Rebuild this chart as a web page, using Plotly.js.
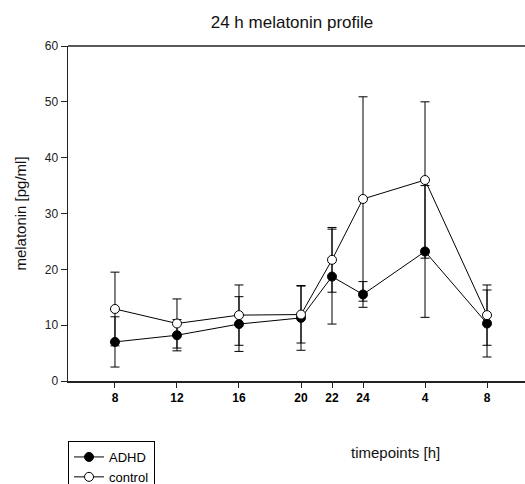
<!DOCTYPE html>
<html>
<head>
<meta charset="utf-8">
<script src="https://cdn.plot.ly/plotly-3.0.1.min.js"></script>
<style>html,body{margin:0;padding:0;background:#fff;}#chart{width:525px;height:484px;}</style>
</head>
<body>
<div id="chart"></div>
<script>
// Time positions in hours (continuous clock: 28 = 4 h next day, 32 = 8 h next day)
const hours = [8, 12, 16, 20, 22, 24, 28, 32];
const tickLabels = ["8", "12", "16", "20", "22", "24", "4", "8"];
const adhdMean = [7.0, 8.2, 10.2, 11.3, 18.7, 15.5, 23.2, 10.3];
const adhdSD   = [4.5, 2.8, 4.9, 5.8, 8.5, 2.3, 11.8, 6.0];
const controlMean = [12.9, 10.3, 11.8, 11.9, 21.7, 32.6, 36.0, 11.8];
const controlSD   = [6.6, 4.4, 5.4, 5.1, 5.8, 18.3, 14.0, 5.4];
const yTicks = [0, 10, 20, 30, 40, 50, 60];

const FONT = "Liberation Sans, Arial, sans-serif";
const PLOT_TOP = 46, PLOT_BOTTOM = 381, PLOT_LEFT = 68, W = 525, H = 484;
const ph = PLOT_BOTTOM - PLOT_TOP, pw = W - PLOT_LEFT;

const traces = [
  {
    x: hours, y: adhdMean, name: "ADHD", type: "scatter", mode: "lines+markers",
    line: {color: "#000", width: 1},
    marker: {symbol: "circle", size: 9, color: "#000", line: {color: "#000", width: 1}},
    error_y: {type: "data", array: adhdSD, visible: true, color: "#000", thickness: 1, width: 4.5}
  },
  {
    x: hours, y: controlMean, name: "control", type: "scatter", mode: "lines+markers",
    line: {color: "#000", width: 1},
    marker: {symbol: "circle", size: 9, color: "#fff", line: {color: "#000", width: 1}},
    error_y: {type: "data", array: controlSD, visible: true, color: "#000", thickness: 1, width: 4.5}
  }
];

const layout = {
  width: W, height: H,
  margin: {l: PLOT_LEFT, r: 0, t: PLOT_TOP, b: H - PLOT_BOTTOM, autoexpand: false},
  font: {family: FONT, color: "#111", size: 12},
  showlegend: true,
  title: {text: "24 h melatonin profile", font: {family: FONT, size: 17, color: "#111"},
          x: 292 / W, xref: "container", xanchor: "center", y: 1 - 22 / H, yref: "container", yanchor: "middle"},
  xaxis: {
    range: [4.97, 34.45], tickmode: "array", tickvals: hours, ticktext: tickLabels,
    showgrid: false, zeroline: false, showline: true, linecolor: "#222", linewidth: 1.5,
    ticks: "outside", ticklen: 5, tickwidth: 1, tickcolor: "#222",
    tickfont: {family: FONT, size: 12, color: "#000", weight: "bold"}
  },
  yaxis: {
    range: [0, 60], tickmode: "array", tickvals: yTicks,
    showgrid: false, zeroline: false, showline: true, linecolor: "#222", linewidth: 1.5,
    ticks: "outside", ticklen: 6, tickwidth: 1, tickcolor: "#222",
    tickfont: {family: FONT, size: 12, color: "#222"},
    title: {text: "melatonin [pg/ml]", font: {family: FONT, size: 15, color: "#111"}, standoff: 14}
  },
  shapes: [
    {type: "line", xref: "paper", yref: "paper", x0: 0, x1: 1, y0: 1, y1: 1,
     line: {color: "#222", width: 1.5}}
  ],
  legend: {
    x: 0, xanchor: "left", y: (PLOT_BOTTOM - 441) / ph, yanchor: "top",
    bgcolor: "#fff", bordercolor: "#000", borderwidth: 1,
    font: {family: FONT, size: 13, color: "#000"},
    itemwidth: 30, tracegroupgap: 0
  },
  annotations: [
    {text: "timepoints [h]", xref: "paper", yref: "paper", x: (395 - PLOT_LEFT) / pw, y: (PLOT_BOTTOM - 452) / ph,
     xanchor: "center", yanchor: "middle", showarrow: false, font: {family: FONT, size: 15, color: "#111"}}
  ]
};

Plotly.newPlot("chart", traces, layout, {displayModeBar: false, staticPlot: true});
</script>
</body>
</html>
